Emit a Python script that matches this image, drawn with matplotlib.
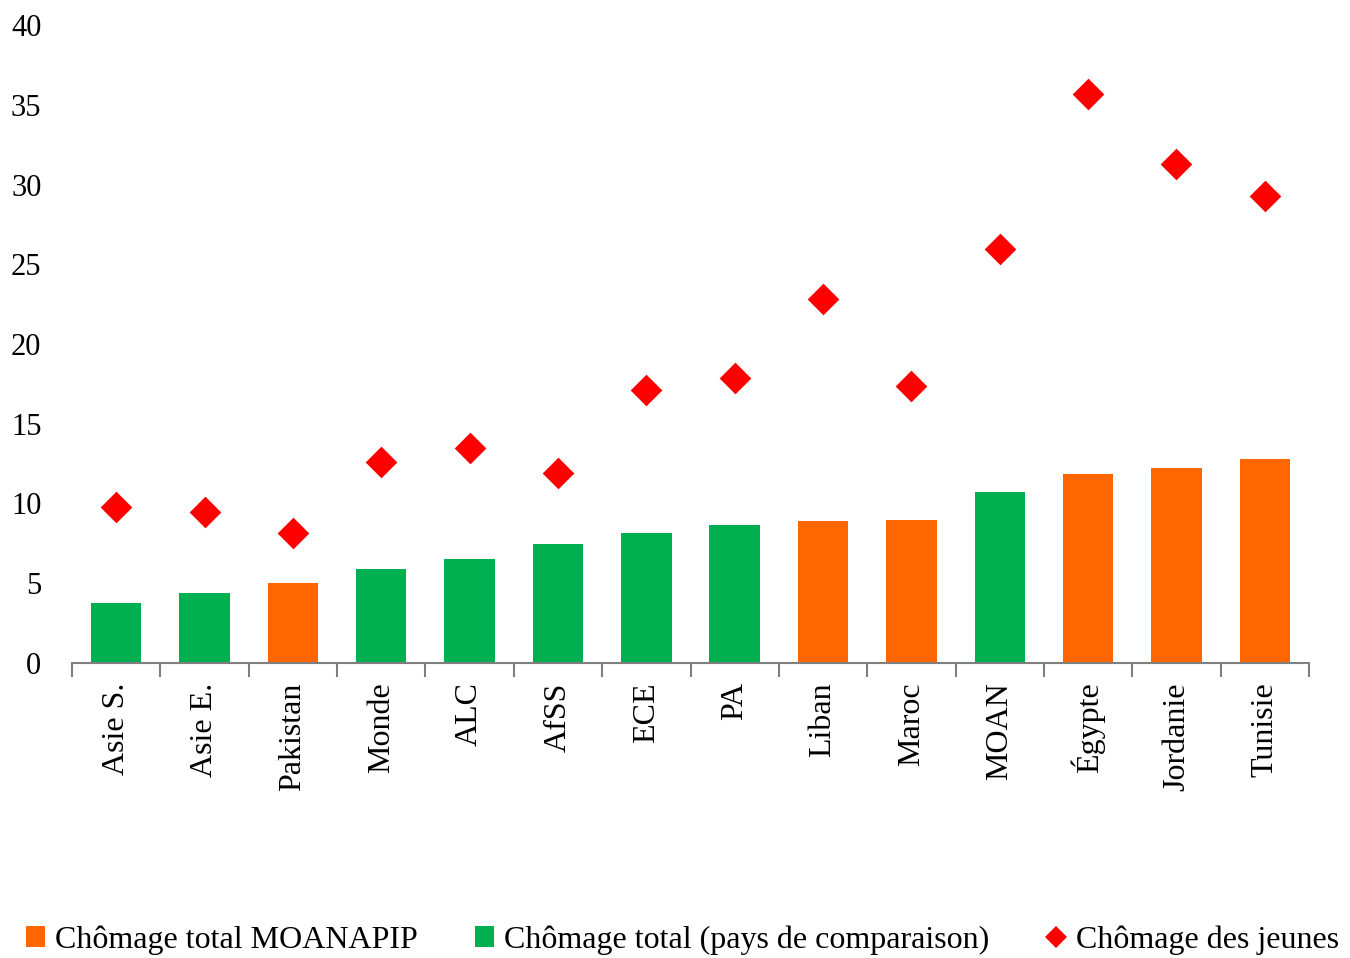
import matplotlib
matplotlib.use("Agg")
import matplotlib.pyplot as plt
from matplotlib.lines import Line2D
from matplotlib.patches import Patch
import numpy as np

categories = ["Asie S.", "Asie E.", "Pakistan", "Monde", "ALC", "AfSS", "ECE", "PA",
              "Liban", "Maroc", "MOAN", "Égypte", "Jordanie", "Tunisie"]
total_unemployment = [3.76, 4.39, 5.02, 5.9, 6.52, 7.46, 8.15, 8.65, 8.9, 8.97, 10.72, 11.85, 12.2, 12.77]
is_moanapip = [False, False, True, False, False, False, False, False, True, True, False, True, True, True]
youth_unemployment = [9.78, 9.47, 8.15, 12.6, 13.48, 11.9, 17.1, 17.87, 22.8, 17.37, 25.94, 35.67, 31.27, 29.28]
yticks = [0, 5, 10, 15, 20, 25, 30, 35, 40]
legend_labels = ["Chômage total MOANAPIP", "Chômage total (pays de comparaison)", "Chômage des jeunes"]

ORANGE = "#FF6600"
GREEN = "#00B050"
RED = "#FF0000"

plt.rcParams['font.family'] = ['Liberation Serif', 'DejaVu Serif']

fig = plt.figure(figsize=(13.5, 9.58), dpi=100)
ax = fig.add_axes([72/1350, 1-663/958, (1309-72)/1350, (663-25)/958])

x = np.arange(len(categories))
colors = [ORANGE if m else GREEN for m in is_moanapip]
ax.bar(x, total_unemployment, width=0.57, color=colors, zorder=2)
ax.scatter(x, youth_unemployment, marker="D", s=260, color=RED, zorder=3, linewidths=0)

ax.set_xlim(-0.5, len(categories) - 0.5)
ax.set_ylim(0, 40)
ax.set_yticks(yticks)
ax.set_yticklabels([str(v) for v in yticks], fontsize=22)
ax.tick_params(axis='y', length=0, pad=22)

ax.set_xticks(x)
ax.set_xticklabels(categories, rotation=90, fontsize=23, va='top', ha='center')
ax.tick_params(axis='x', length=0, pad=14)
# boundary ticks
ax.set_xticks(np.arange(-0.5, len(categories), 1.0), minor=True)
ax.tick_params(axis='x', which='minor', length=10, color='#7f7f7f', width=1.5, direction='out')

for s in ['left', 'right', 'top']:
    ax.spines[s].set_visible(False)
ax.spines['bottom'].set_color('#7f7f7f')
ax.spines['bottom'].set_linewidth(1.5)

handles = [Patch(facecolor=ORANGE, edgecolor='none'),
           Patch(facecolor=GREEN, edgecolor='none'),
           Line2D([], [], marker='D', color=RED, linestyle='none', markersize=11, markeredgewidth=0)]
fig.legend(handles, legend_labels, loc='center left', bbox_to_anchor=(0.01, 1-940/958),
           ncol=3, frameon=False, fontsize=23, handlelength=0.6, handleheight=0.6,
           handletextpad=0.3, columnspacing=1.8, borderaxespad=0)

fig.savefig("out.png", dpi=100)
